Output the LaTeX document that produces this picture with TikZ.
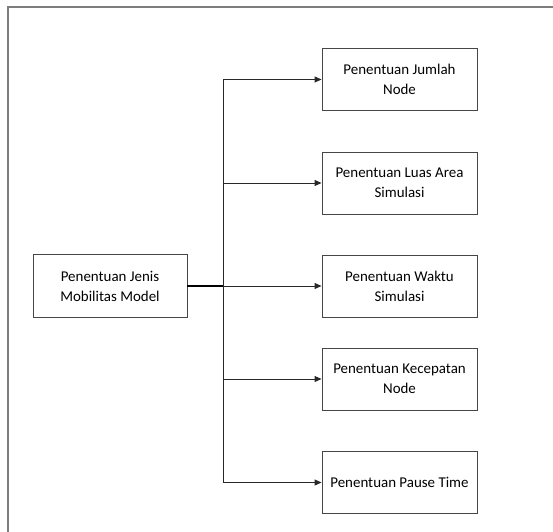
\documentclass[tikz,border=0pt]{standalone}
\usepackage{fontspec}
\setmainfont{Carlito}
\usetikzlibrary{
  arrows.meta,
  positioning
}
\definecolor{frameclr}{RGB}{125,125,125}
\definecolor{boxclr}{RGB}{70,70,70}
\definecolor{lineclr}{RGB}{40,40,40}
\tikzset{
  % Kotak proses
  procbox/.style   = {draw=boxclr, line width=0.9bp, fill=white,
                      minimum width=155bp, minimum height=62bp,
                      align=center, inner sep=2pt,
                      font=\fontsize{15}{20}\selectfont},
  % Garis penghubung
  mainline/.style  = {draw=black, line width=1.6bp},
  trunkline/.style = {draw=lineclr, line width=0.9bp},
  arrowline/.style = {-{Triangle[length=7bp,width=6bp]}, draw=lineclr, line width=0.9bp},
  % Bingkai luar
  frameline/.style = {draw=frameclr, line width=1.4bp},
}

\begin{document}
\begin{tikzpicture}[x=1bp, y=-1bp]
  \useasboundingbox (0,0) rectangle (553,532);
  % Bingkai
  \draw[frameline] (553,7) -- (8,7) -- (8,532);
  % Kotak sumber
  \node[procbox, minimum width=154bp, minimum height=63bp] (jenis) at (110,286)
    {Penentuan Jenis\\Mobilitas Model};
  % Kotak tujuan
  \node[procbox] (jumlah)    at (399.5,79.5) {Penentuan Jumlah\\Node};
  \node[procbox] (luas)      at (399.5,183)  {Penentuan Luas Area\\Simulasi};
  \node[procbox] (waktu)     at (399.5,286)  {Penentuan Waktu\\Simulasi};
  \node[procbox] (kecepatan) at (399.5,379)  {Penentuan Kecepatan\\Node};
  \node[procbox] (pause)     at (399.5,482.5){Penentuan Pause Time};
  % Titik cabang
  \coordinate (cabang) at (223,286);
  % Garis utama dan batang
  \draw[trunkline] (jumlah.west -| cabang) -- (pause.west -| cabang);
  \draw[mainline] (jenis.east) -- (cabang);
  % Panah ke setiap kotak
  \foreach \tgt in {jumlah, luas, waktu, kecepatan, pause}
    \draw[arrowline] (\tgt.west -| cabang) -- (\tgt.west);
\end{tikzpicture}
\end{document}
